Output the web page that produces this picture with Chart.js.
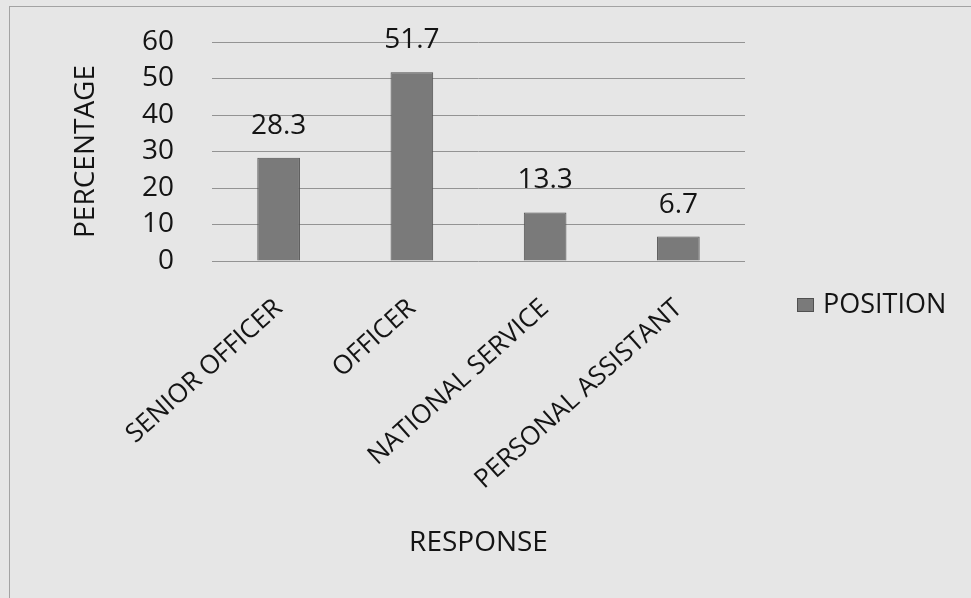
<!DOCTYPE html>
<html>
<head>
<meta charset="utf-8">
<script src="https://cdn.jsdelivr.net/npm/chart.js@4/dist/chart.umd.min.js"></script>
<style>
  html, body { margin: 0; padding: 0; background: #e6e6e6; }
  #wrap { position: relative; width: 971px; height: 598px; overflow: hidden; background: #e6e6e6; }
  #frame { position: absolute; left: 9px; top: 6px; width: 980px; height: 620px;
           border-left: 1px solid #a3a3a3; border-top: 1px solid #a3a3a3; }
  canvas { position: absolute; left: 0; top: 0; }
</style>
</head>
<body>
<div id="wrap">
  <div id="frame"></div>
  <canvas id="chart" width="971" height="598"></canvas>
</div>
<script>
// Survey responses by position (percent of respondents)
const categories = ['SENIOR OFFICER', 'OFFICER', 'NATIONAL SERVICE', 'PERSONAL ASSISTANT'];
const positionValues = [28.3, 51.7, 13.3, 6.7];
const seriesName = 'POSITION';
const yTicks = [0, 10, 20, 30, 40, 50, 60];

const TEXT = '#141414';
const FONT = "'Open Sans', 'Liberation Sans', sans-serif";
Chart.defaults.font.family = FONT;
Chart.defaults.color = TEXT;

// Value written above each bar
const valueLabels = {
  id: 'valueLabels',
  afterDatasetsDraw(chart) {
    const ctx = chart.ctx;
    const meta = chart.getDatasetMeta(0);
    const data = chart.data.datasets[0].data;
    ctx.save();
    ctx.font = '28px ' + FONT;
    ctx.fillStyle = TEXT;
    ctx.textAlign = 'center';
    ctx.textBaseline = 'middle';
    meta.data.forEach((bar, i) => {
      ctx.fillText(String(data[i]), bar.x, bar.y - 32);
    });
    ctx.restore();
  }
};

// Series key drawn to the right of the plot
const sideLegend = {
  id: 'sideLegend',
  afterDraw(chart) {
    const ctx = chart.ctx;
    const ds = chart.data.datasets[0];
    const area = chart.chartArea;
    const x = area.right + 52;
    const y = 305;
    ctx.save();
    ctx.fillStyle = ds.backgroundColor;
    ctx.strokeStyle = ds.borderColor;
    ctx.lineWidth = 1;
    ctx.fillRect(x, y - 7, 17, 14);
    ctx.strokeRect(x + 0.5, y - 6.5, 16, 13);
    ctx.font = '27px ' + FONT;
    ctx.fillStyle = TEXT;
    ctx.textAlign = 'left';
    ctx.textBaseline = 'middle';
    ctx.fillText(ds.label, x + 26, y);
    ctx.restore();
  }
};

new Chart(document.getElementById('chart'), {
  type: 'bar',
  data: {
    labels: categories,
    datasets: [{
      label: seriesName,
      data: positionValues,
      backgroundColor: '#7a7a7a',
      borderColor: '#505050',
      borderWidth: 1,
      barPercentage: 0.32,
      categoryPercentage: 1
    }]
  },
  options: {
    responsive: false,
    animation: false,
    layout: { padding: { left: 60, top: 42, right: 226, bottom: 30 } },
    plugins: { legend: { display: false }, tooltip: { enabled: false } },
    scales: {
      x: {
        grid: { display: false },
        border: { display: false },
        ticks: {
          font: { size: 26 },
          color: TEXT,
          minRotation: 42,
          maxRotation: 42,
          autoSkip: false,
          padding: 24
        },
        title: {
          display: true,
          text: 'RESPONSE',
          font: { size: 28 },
          color: TEXT,
          padding: { top: 4, bottom: 8 }
        },
        afterFit(scale) { scale.height = 307; }
      },
      y: {
        min: 0,
        max: 60,
        afterBuildTicks(scale) { scale.ticks = yTicks.map(v => ({ value: v })); },
        grid: { color: '#939393', lineWidth: 1, drawTicks: false },
        border: { display: false },
        ticks: { font: { size: 28 }, color: TEXT, padding: 38, autoSkip: false },
        title: {
          display: true,
          text: 'PERCENTAGE',
          font: { size: 28 },
          color: TEXT,
          padding: { top: 9, bottom: 4 }
        },
        afterFit(scale) {
          scale.width = 152;
          scale.paddingTop = 0;
          scale.paddingBottom = 0;
        }
      }
    }
  },
  plugins: [valueLabels, sideLegend]
});
</script>
</body>
</html>
